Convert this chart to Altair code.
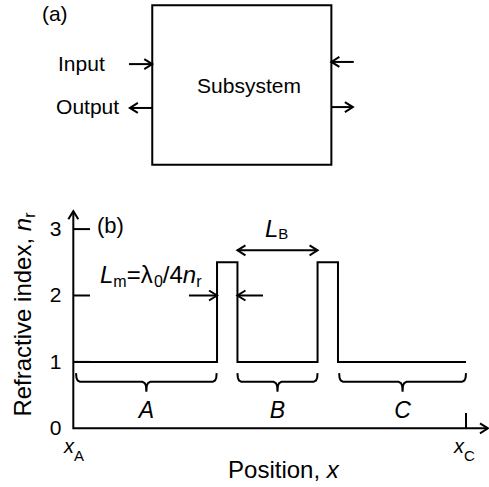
import math
import altair as alt
import pandas as pd

# ---------------- Panel (b) data: refractive-index profile (x_A = 0, x_C = 10) ----------------
step_x = [0.0, 3.66, 4.18, 6.22, 6.74, 10.0]      # positions where n_r changes
step_n = [1.0, 2.5, 1.0, 2.5, 1.0, 1.0]           # n_r from each position on
y_tick_values = [1, 2, 3]
y_label_values = [0, 1, 2, 3]
y_tick_labels = ["0", "1", "2", "3"]
x_end_values = [0.0, 10.0]
x_end_names = ["A", "C"]
brace_from = [0.07, 4.18, 6.77]
brace_to = [3.65, 6.22, 10.0]
brace_names = ["A", "B", "C"]
y_axis_top = 3.27
x_axis_end = 10.56
lb_from, lb_to, lb_level = 4.18, 6.22, 2.68
lm_from = [2.945, 4.83]
lm_to = [3.66, 4.18]
lm_level = 2.0

# ---------------- Panel (a) data: block diagram ----------------
box_x = [0.0, 10.0]
box_y = [0.0, 8.9]
port_from = [-1.3, 0.0, 11.25, 10.0]
port_to = [0.0, -1.25, 10.0, 11.2]
port_y = [5.62, 3.17, 5.74, 3.22]
port_names = ["Input", "Output"]

# ---------------- scales ----------------
W, H = 489, 487
DOM = {
    "a": ([-8.5, 18.8], [-18.0, 9.2]),
    "b": ([-1.867, 10.586], [-0.884, 6.45]),
}
K = {p: (W / (d[0][1] - d[0][0]), H / (d[1][1] - d[1][0])) for p, d in DOM.items()}
FONT = "Liberation Sans"


def xs(p):
    return alt.Scale(domain=DOM[p][0], nice=False, zero=False)


def ys(p):
    return alt.Scale(domain=DOM[p][1], nice=False, zero=False)


# ---------------- geometry helpers ----------------
lines = {"a": [], "b": []}
gid = [0]


def poly(p, pts):
    gid[0] += 1
    for i, (x, y) in enumerate(pts):
        lines[p].append({"id": gid[0], "ord": i, "x": x, "y": y})


def head(p, tx, ty, ux, uy, L=8.0, h=5.0):
    kx, ky = K[p]
    w1 = (tx - L * ux / kx - h * uy / kx, ty - L * uy / ky + h * ux / ky)
    w2 = (tx - L * ux / kx + h * uy / kx, ty - L * uy / ky - h * ux / ky)
    poly(p, [w1, (tx, ty), w2])


def arrow(p, x0, y0, x1, y1, both=False):
    kx, ky = K[p]
    dx, dy = (x1 - x0) * kx, (y1 - y0) * ky
    n = math.hypot(dx, dy)
    ux, uy = dx / n, dy / n
    poly(p, [(x0, y0), (x1, y1)])
    head(p, x1, y1, ux, uy)
    if both:
        head(p, x0, y0, -ux, -uy)


def brace(p, x0, x1, top=0.83, bar=0.70, tip=0.55):
    xm = (x0 + x1) / 2
    pts = [(x0, top), (x0 + 0.01, 0.76), (x0 + 0.04, 0.72), (x0 + 0.10, bar),
           (xm - 0.10, bar), (xm - 0.04, 0.68), (xm - 0.01, 0.64), (xm, tip),
           (xm + 0.01, 0.64), (xm + 0.04, 0.68), (xm + 0.10, bar),
           (x1 - 0.10, bar), (x1 - 0.04, 0.72), (x1 - 0.01, 0.76), (x1, top)]
    poly(p, pts)
    return xm


# ---------------- text helpers ----------------
CW = {"L": .556, "m": .833, "=": .584, "λ": .55, "0": .556, "/": .278, "4": .556,
      "n": .556, "r": .333, "B": .667, "x": .5, "A": .667, "C": .722, "R": .722,
      "e": .556, "f": .278, "a": .556, "c": .5, "t": .278, "i": .222, "v": .5,
      "d": .556, ",": .278, " ": .278, "P": .667, "o": .556, "s": .5}
texts = []


def tw(s, size):
    return sum(CW.get(c, .556) for c in s) * size


def txt(p, x, y, s, size, italic=False, align="left", angle=0):
    texts.append({"panel": p, "x": x, "y": y, "text": s, "size": size,
                  "italic": italic, "align": align, "angle": angle})


def compound(p, x, y, parts):
    kx, ky = K[p]
    for s, size, italic, drop in parts:
        txt(p, x, y - drop / ky, s, size, italic)
        x += tw(s, size) / kx


# ---------------- panel (b) drawing ----------------
poly("b", [(0, y_axis_top), (0, 0), (x_axis_end, 0)])
head("b", 0, y_axis_top, 0, 1)
head("b", x_axis_end, 0, 1, 0)
for v in y_tick_values:
    poly("b", [(0, v), (0.425, v)])
poly("b", [(x_end_values[1], 0), (x_end_values[1], 0.23)])
for a0, a1, nm in zip(brace_from, brace_to, brace_names):
    xm = brace("b", a0, a1)
    txt("b", xm, 0.15, nm, 23, italic=True, align="center")
arrow("b", lb_from, lb_level, lb_to, lb_level, both=True)
for a0, a1 in zip(lm_from, lm_to):
    arrow("b", a0, lm_level, a1, lm_level)

for v, lab in zip(y_label_values, y_tick_labels):
    txt("b", -0.453, v - 0.105, lab, 21, align="center")
txt("b", 0.604, 2.94, "(b)", 22)
compound("b", 4.88, 2.886, [("L", 24, True, 0), ("B", 15, False, 2.6)])
compound("b", 0.68, 2.193, [("L", 24, True, 0), ("m", 16, False, 4), ("=", 24, False, 0),
                            ("λ", 24, False, 0), ("0", 16, False, 4), ("/4", 24, False, 0),
                            ("n", 24, True, 0), ("r", 16, False, 4)])
compound("b", -0.237, -0.372, [("x", 20, True, 0), (x_end_names[0], 15, False, 8)])
compound("b", 9.695, -0.372, [("x", 20, True, 0), (x_end_names[1], 15, False, 8)])
compound("b", 3.94, -0.75, [("Position, ", 24, False, 0), ("x", 24, True, 0)])
# rotated y title
bkx, bky = K["b"]
ty0 = 0.176
tx0 = -1.077
txt("b", tx0, ty0, "Refractive index, ", 24, angle=270)
ty1 = ty0 + tw("Refractive index, ", 24) / bky
txt("b", tx0, ty1, "n", 24, italic=True, angle=270)
ty2 = ty1 + tw("n", 24) / bky
txt("b", tx0 + 4 / bkx, ty2, "r", 16, angle=270)

# ---------------- panel (a) drawing ----------------
for a0, a1, yy in zip(port_from, port_to, port_y):
    arrow("a", a0, yy, a1, yy)
txt("a", -6.16, 8.02, "(a)", 21)
txt("a", -5.26, 5.23, port_names[0], 21)
txt("a", -5.37, 2.81, port_names[1], 21)
txt("a", 2.5, 3.99, "Subsystem", 21)

# ---------------- layers ----------------
layers = []
box_df = pd.DataFrame({"x0": [box_x[0]], "x1": [box_x[1]], "y0": [box_y[0]], "y1": [box_y[1]]})
layers.append(
    alt.Chart(box_df).mark_rect(fillOpacity=0, stroke="black", strokeWidth=2).encode(
        x=alt.X("x0:Q", scale=xs("a"), axis=None), x2="x1:Q",
        y=alt.Y("y0:Q", scale=ys("a"), axis=None), y2="y1:Q")
)
step_df = pd.DataFrame({"x": step_x, "n": step_n})
layers.append(
    alt.Chart(step_df).mark_line(interpolate="step-after", color="black", strokeWidth=2).encode(
        x=alt.X("x:Q", scale=xs("b"), axis=None),
        y=alt.Y("n:Q", scale=ys("b"), axis=None))
)
for p in ["a", "b"]:
    df = pd.DataFrame(lines[p])
    layers.append(
        alt.Chart(df).mark_line(color="black", strokeWidth=2, strokeJoin="miter").encode(
            x=alt.X("x:Q", scale=xs(p), axis=None),
            y=alt.Y("y:Q", scale=ys(p), axis=None),
            detail="id:N", order="ord:Q")
    )

tdf = pd.DataFrame(texts)
for (p, italic, align, angle), g in tdf.groupby(["panel", "italic", "align", "angle"]):
    layers.append(
        alt.Chart(g[["x", "y", "text", "size"]]).mark_text(
            font=FONT, fontStyle="italic" if italic else "normal", align=align,
            baseline="alphabetic", angle=int(angle), color="black").encode(
            x=alt.X("x:Q", scale=xs(p), axis=None),
            y=alt.Y("y:Q", scale=ys(p), axis=None),
            text="text:N",
            size=alt.Size("size:Q", scale=None, legend=None))
    )

chart = alt.layer(*layers).resolve_scale(x="independent", y="independent").properties(
    width=W, height=H, padding=0, background="white",
    autosize=alt.AutoSizeParams(type="none"),
).configure_view(stroke=None)

chart.save("out.html", embed_options={"renderer": "svg", "actions": False})
